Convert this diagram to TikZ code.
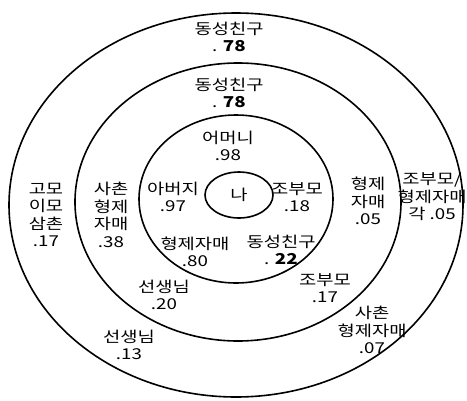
\documentclass[tikz,border=0pt]{standalone}
\usepackage{fontspec}
\newfontfamily\kr{Noto Sans CJK KR}[FakeStretch=1.25]
\usetikzlibrary{shapes.geometric}

\tikzset{
  ring/.style={line width=1.6pt},
  lbl/.style={align=center, font=\kr\fontsize{15}{17.5}\selectfont, inner sep=0pt},
}

\begin{document}
\begin{tikzpicture}[x=1pt, y=-1pt]
  \useasboundingbox (0,0) rectangle (467,400);
  % 동심 타원
  \draw[ring] (236,205) ellipse [x radius=227pt, y radius=192pt];
  \draw[ring] (238,202) ellipse [x radius=163pt, y radius=139pt];
  \draw[ring] (236,199) ellipse [x radius=97pt, y radius=84pt];
  \node[ring, draw, ellipse, lbl, minimum width=68pt, minimum height=46pt] (na) at (239,195) {나};

  % 안쪽 원
  \node[lbl] (eomeoni) at (228,146) {어머니\\.98};
  \node[lbl] (abeoji) at (173,197) {아버지\\.97};
  \node[lbl] (jobumoIn) at (297,197) {조부모\\.18};
  \node[lbl] (hyeongIn) at (195,252) {형제자매\\.80};
  \node[lbl] (dongIn) at (281,250) {동성친구\\. \textbf{\itshape 22}};

  % 가운데 원
  \node[lbl] (dongMid) at (229,93) {동성친구\\. \textbf{\itshape 78}};
  \node[lbl] (sachonL) at (111,215) {사촌\\형제\\자매\\.38};
  \node[lbl] (hyeongR) at (368,201) {형제\\자매\\.05};
  \node[lbl] (teacherMid) at (164,295) {선생님\\.20};
  \node[lbl] (jobumoMid) at (325,288) {조부모\\.17};

  % 바깥 원
  \node[lbl] (dongOut) at (229,37) {동성친구\\. \textbf{\itshape 78}};
  \node[lbl] (gomo) at (46,215) {고모\\이모\\삼촌\\.17};
  \node[lbl] (jobumoOut) at (432,197) {조부모/\\형제자매\\각 .05};
  \node[lbl] (teacherOut) at (129,345) {선생님\\.13};
  \node[lbl] (sachonR) at (372,330) {사촌\\형제자매\\.07};
\end{tikzpicture}
\end{document}
